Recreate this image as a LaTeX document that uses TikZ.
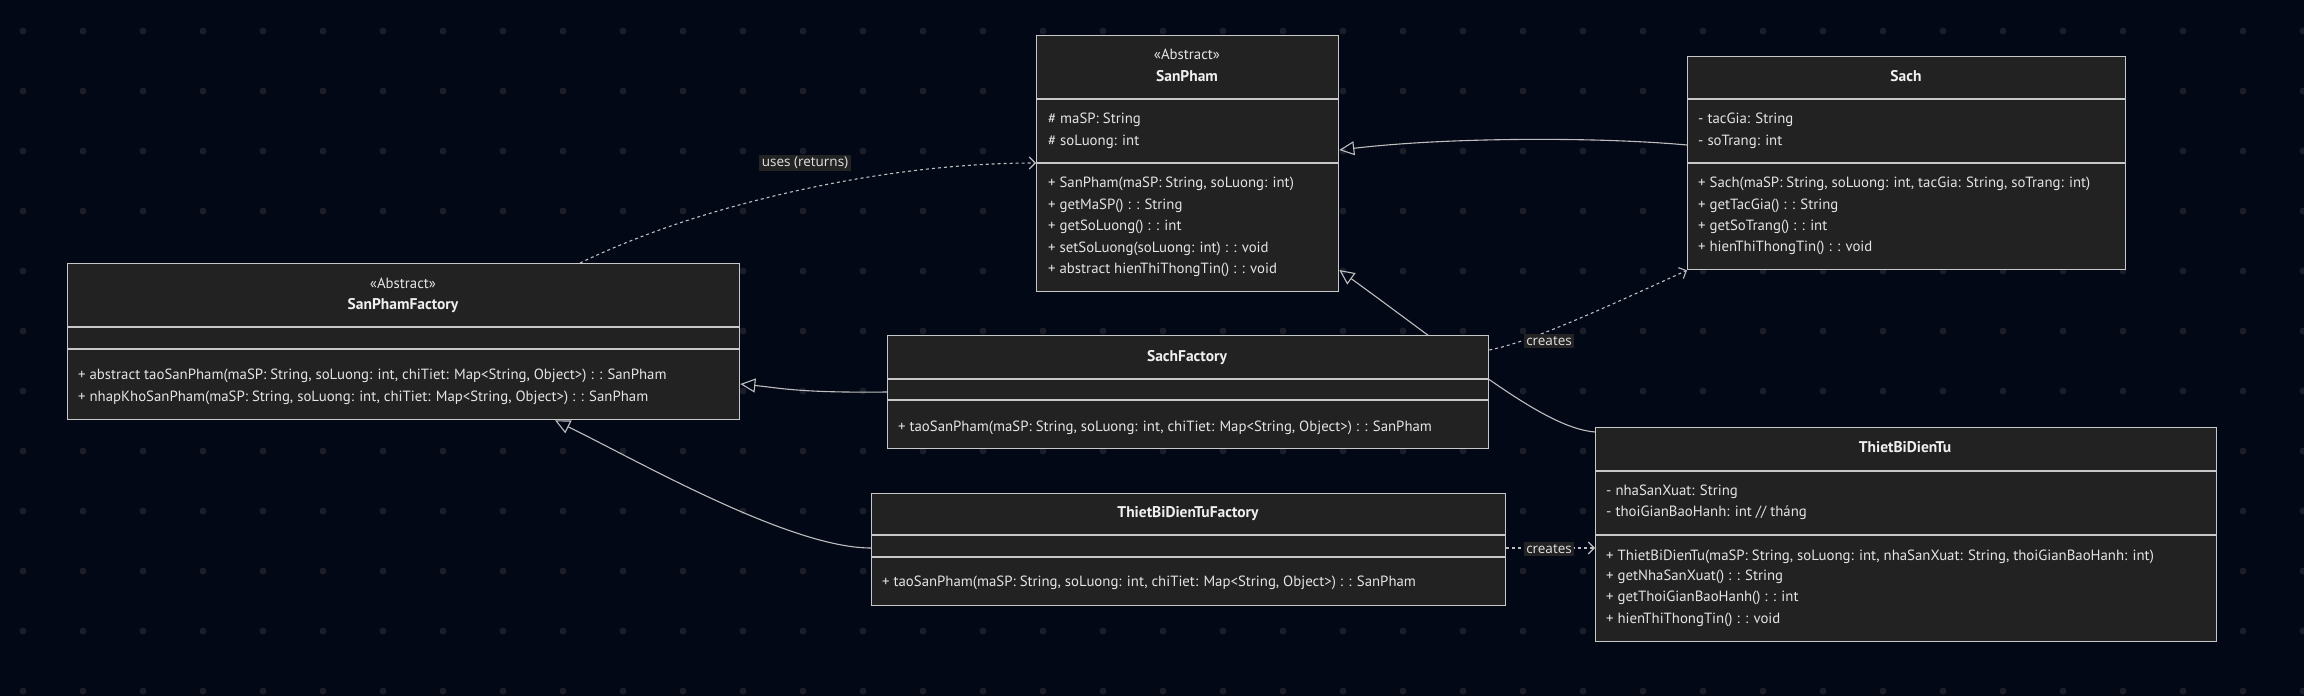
\documentclass[tikz,border=0pt]{standalone}
\usepackage{fontspec}
\setmainfont{PT Sans}
\newfontfamily\labelfont{Open Sans}
\usetikzlibrary{arrows.meta}

\definecolor{bgcol}{RGB}{3,8,22}
\definecolor{dotcol}{RGB}{27,30,41}
\definecolor{boxfill}{RGB}{34,34,34}
\definecolor{boxline}{RGB}{200,200,200}
\definecolor{edgecol}{RGB}{190,190,190}
\definecolor{memtext}{RGB}{228,228,228}
\definecolor{titletext}{RGB}{240,240,240}
\definecolor{lblfill}{RGB}{35,35,35}

\pgfdeclarelayer{bg}
\pgfdeclarelayer{edges}
\pgfsetlayers{bg,edges,main}

\begin{document}
\begin{tikzpicture}[x=1pt, y=-1pt,
    umlclass/.style={rectangle, draw=boxline, fill=boxfill, line width=1.3pt, anchor=north west, inner sep=0pt},
    divider/.style={draw=boxline, line width=1.3pt},
    member/.style={anchor=west, inner sep=0pt, text=memtext, text height=10pt, text depth=3pt, font=\fontsize{14.8}{16}\selectfont},
    stereo/.style={inner sep=0pt, text=memtext, text height=10pt, text depth=3pt, font=\fontsize{14.8}{16}\selectfont},
    title/.style={inner sep=0pt, text=titletext, text height=10pt, text depth=3pt, font=\fontsize{15.5}{17}\selectfont\bfseries},
    inherit/.style={draw=edgecol, line width=1.1pt, -{Triangle[open, length=15pt, width=14pt]}},
    depend/.style={draw=edgecol, line width=1.1pt, dash pattern=on 3pt off 3pt, -{Straight Barb[length=6pt, width=12pt]}},
    edgelabel/.style={fill=lblfill, text=memtext, inner sep=2.5pt, font=\labelfont\fontsize{13.5}{15}\selectfont}]

    \useasboundingbox (0,0) rectangle (2304,696);
    \begin{pgfonlayer}{bg}
    \fill[bgcol] (0,0) rectangle (2304,696);
    \foreach \i in {0,...,38}
      \foreach \j in {0,...,11}
        \fill[dotcol] (23+60*\i, 31+60*\j) circle (3.5pt);
    \end{pgfonlayer}

    % SanPham
    \node[umlclass, minimum width=302pt, minimum height=256pt] (sanpham) at (1036,35) {};
    \draw[divider] (sanpham.west |- 0,99) -- (sanpham.east |- 0,99);
    \draw[divider] (sanpham.west |- 0,163) -- (sanpham.east |- 0,163);
    \node[stereo] (sanpham-st) at (1187,56) {«Abstract»};
    \node[title] (sanpham-nm) at (1187,78) {SanPham};
    \node[member] (sanpham-a1) at (1048,120) {\# maSP: String};
    \node[member] (sanpham-a2) at (1048,142) {\# soLuong: int};
    \node[member] (sanpham-m1) at (1048,184) {+ SanPham(maSP: String, soLuong: int)};
    \node[member] (sanpham-m2) at (1048,206) {+ getMaSP() : : String};
    \node[member] (sanpham-m3) at (1048,227) {+ getSoLuong() : : int};
    \node[member] (sanpham-m4) at (1048,249) {+ setSoLuong(soLuong: int) : : void};
    \node[member] (sanpham-m5) at (1048,270) {+ abstract hienThiThongTin() : : void};

    % Sach
    \node[umlclass, minimum width=438pt, minimum height=213pt] (sach) at (1687,56) {};
    \draw[divider] (sach.west |- 0,99) -- (sach.east |- 0,99);
    \draw[divider] (sach.west |- 0,163) -- (sach.east |- 0,163);
    \node[title] (sach-nm) at (1906,78) {Sach};
    \node[member] (sach-a1) at (1698,120) {- tacGia: String};
    \node[member] (sach-a2) at (1698,142) {- soTrang: int};
    \node[member] (sach-m1) at (1698,184) {+ Sach(maSP: String, soLuong: int, tacGia: String, soTrang: int)};
    \node[member] (sach-m2) at (1698,206) {+ getTacGia() : : String};
    \node[member] (sach-m3) at (1698,227) {+ getSoTrang() : : int};
    \node[member] (sach-m4) at (1698,248) {+ hienThiThongTin() : : void};

    % SanPhamFactory
    \node[umlclass, minimum width=672pt, minimum height=156pt] (spfactory) at (67,263) {};
    \draw[divider] (spfactory.west |- 0,327) -- (spfactory.east |- 0,327);
    \draw[divider] (spfactory.west |- 0,349) -- (spfactory.east |- 0,349);
    \node[stereo] (spfactory-st) at (403,285) {«Abstract»};
    \node[title] (spfactory-nm) at (403,306) {SanPhamFactory};
    \node[member] (spfactory-m1) at (78,376) {+ abstract taoSanPham(maSP: String, soLuong: int, chiTiet: Map<String, Object>) : : SanPham};
    \node[member] (spfactory-m2) at (78,398) {+ nhapKhoSanPham(maSP: String, soLuong: int, chiTiet: Map<String, Object>) : : SanPham};

    % SachFactory
    \node[umlclass, minimum width=601pt, minimum height=113pt] (sachfactory) at (887,335) {};
    \draw[divider] (sachfactory.west |- 0,379) -- (sachfactory.east |- 0,379);
    \draw[divider] (sachfactory.west |- 0,400) -- (sachfactory.east |- 0,400);
    \node[title] (sachfactory-nm) at (1187,358) {SachFactory};
    \node[member] (sachfactory-m1) at (898,428) {+ taoSanPham(maSP: String, soLuong: int, chiTiet: Map<String, Object>) : : SanPham};

    % ThietBiDienTuFactory
    \node[umlclass, minimum width=634pt, minimum height=112pt] (tbdtfactory) at (871,493) {};
    \draw[divider] (tbdtfactory.west |- 0,535) -- (tbdtfactory.east |- 0,535);
    \draw[divider] (tbdtfactory.west |- 0,557) -- (tbdtfactory.east |- 0,557);
    \node[title] (tbdtfactory-nm) at (1188,514) {ThietBiDienTuFactory};
    \node[member] (tbdtfactory-m1) at (882,583) {+ taoSanPham(maSP: String, soLuong: int, chiTiet: Map<String, Object>) : : SanPham};

    % ThietBiDienTu
    \node[umlclass, minimum width=621pt, minimum height=214pt] (tbdt) at (1595,427) {};
    \draw[divider] (tbdt.west |- 0,471) -- (tbdt.east |- 0,471);
    \draw[divider] (tbdt.west |- 0,535) -- (tbdt.east |- 0,535);
    \node[title] (tbdt-nm) at (1905,449) {ThietBiDienTu};
    \node[member] (tbdt-a1) at (1606,492) {- nhaSanXuat: String};
    \node[member] (tbdt-a2) at (1606,513) {- thoiGianBaoHanh: int // tháng};
    \node[member] (tbdt-m1) at (1606,557) {+ ThietBiDienTu(maSP: String, soLuong: int, nhaSanXuat: String, thoiGianBaoHanh: int)};
    \node[member] (tbdt-m2) at (1606,577) {+ getNhaSanXuat() : : String};
    \node[member] (tbdt-m3) at (1606,598) {+ getThoiGianBaoHanh() : : int};
    \node[member] (tbdt-m4) at (1606,620) {+ hienThiThongTin() : : void};

    % connectors
    \begin{pgfonlayer}{edges}
    \draw[depend] (spfactory.north -| 580,0) .. controls (700,205) and (880,163) .. (sanpham.west |- 0,163);
    \draw[inherit] (sach.west |- 0,145) .. controls (1600,137) and (1450,137) .. (sanpham.east |- 0,150);
    \draw[inherit] (tbdt.west |- 0,432) .. controls (1545,428) and (1470,365) .. (sanpham.east |- 0,270);
    \draw[depend] (sachfactory.east |- 0,350) .. controls (1530,342) and (1600,310) .. (sach.south west);
    \draw[depend] (tbdtfactory.east |- 0,548) -- (tbdt.west |- 0,548);
    \draw[inherit] (sachfactory.west |- 0,392) .. controls (800,393) and (780,388) .. (spfactory.east |- 0,384);
    \draw[inherit] (tbdtfactory.west |- 0,548) .. controls (790,548) and (640,462) .. (spfactory.south -| 555,0);
    \end{pgfonlayer}
    \node[edgelabel] (uses-lbl) at (805,163) {uses (returns)};
    \node[edgelabel] (creates-sach) at (1549,341) {creates};
    \node[edgelabel] (creates-tbdt) at (1549,549) {creates};

  \end{tikzpicture}
\end{document}
